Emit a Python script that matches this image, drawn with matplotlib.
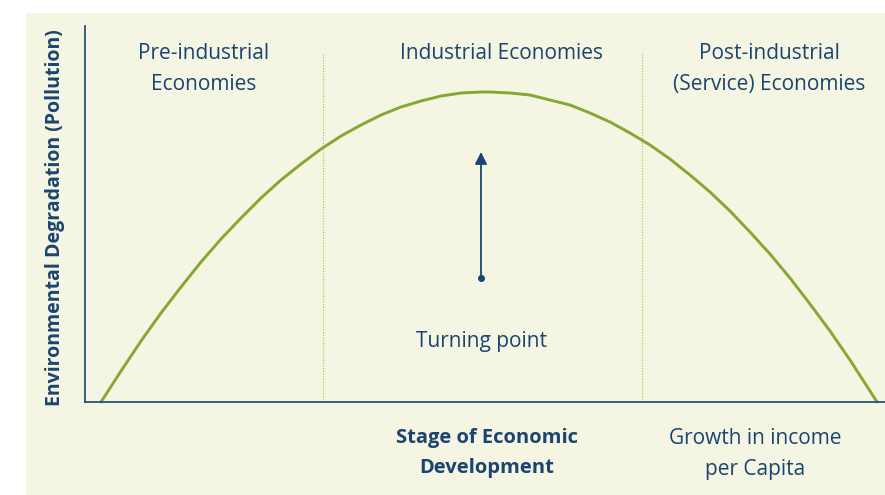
import matplotlib.pyplot as plt
from matplotlib.patches import Rectangle

NAVY = '#1b4470'
GREEN = '#86a832'
BEIGE = '#f4f5e2'

# curve (x: stage of development, y: degradation)
curve_x = [16, 36, 56, 76, 96, 116, 136, 156, 176, 196, 216, 236, 256, 276, 296, 316, 336, 356,
           376, 396, 405, 425, 445, 465, 485, 505, 525, 545, 565, 585, 605, 625, 645, 665,
           685, 705, 725, 745, 765, 785, 792]
curve_y = [0, 31, 61, 89, 115, 140, 163, 184, 204, 222, 238, 253, 266, 277, 287, 295, 301, 306,
           309, 310, 310, 309, 307, 302, 297, 289, 280, 269, 257, 243, 227, 210, 191, 170,
           148, 124, 98, 71, 42, 11, 0]

dividers = [238, 557]
divider_top = 349
arrow_x = 396
arrow_from = 124
arrow_to = 250

region_labels = ['Pre-industrial\nEconomies', 'Industrial Economies', 'Post-industrial\n(Service) Economies']
region_x = [119, 417, 684]

W, H = 885, 495
fig = plt.figure(figsize=(W / 100, H / 100), dpi=100)
plt.rcParams['font.family'] = ['Open Sans', 'DejaVu Sans']

# beige panel behind everything
fig.patches.append(Rectangle((26 / W, 0), 1, 1 - 13 / H, transform=fig.transFigure,
                             facecolor=BEIGE, edgecolor='none', zorder=-10))

ax = fig.add_axes([85 / W, (H - 402) / H, (W - 85) / W, (402 - 26) / H])
ax.set_facecolor('none')
ax.set_xlim(0, 800)
ax.set_ylim(0, 376)
for s in ['top', 'right']:
    ax.spines[s].set_visible(False)
for s in ['left', 'bottom']:
    ax.spines[s].set_color(NAVY)
    ax.spines[s].set_linewidth(1.2)
ax.set_xticks([])
ax.set_yticks([])

for d in dividers:
    ax.plot([d, d], [0, divider_top], color='#a9c25a', lw=0.8, ls=(0, (1, 1.5)))

ax.plot(curve_x, curve_y, color=GREEN, lw=2.1, solid_capstyle='round',
        solid_joinstyle='round', clip_on=False)

ax.annotate('', xy=(arrow_x, arrow_to), xytext=(arrow_x, arrow_from),
            arrowprops=dict(arrowstyle='-|>', color=NAVY, lw=1.3, mutation_scale=18,
                            shrinkA=0, shrinkB=0))
ax.plot([arrow_x], [arrow_from], 'o', color=NAVY, ms=4)

FS = 15
ax.text(arrow_x, 61, 'Turning point', color=NAVY, fontsize=FS, ha='center', va='center')

for lbl, x in zip(region_labels, region_x):
    ax.text(x, 359, lbl, color=NAVY, fontsize=FS, ha='center', va='top', linespacing=1.65)

ax.text(402, -26, 'Stage of Economic\nDevelopment', color=NAVY, fontsize=FS - 0.5, fontweight='bold',
        ha='center', va='top', linespacing=1.7, clip_on=False)
ax.text(670, -26, 'Growth in income\nper Capita', color=NAVY, fontsize=FS,
        ha='center', va='top', linespacing=1.65, clip_on=False)

fig.text(55 / W, 1 - 218 / H, 'Environmental Degradation (Pollution)', color=NAVY, fontsize=14,
         fontweight='bold', rotation=90, ha='center', va='center')

fig.savefig('out.png', dpi=100)
